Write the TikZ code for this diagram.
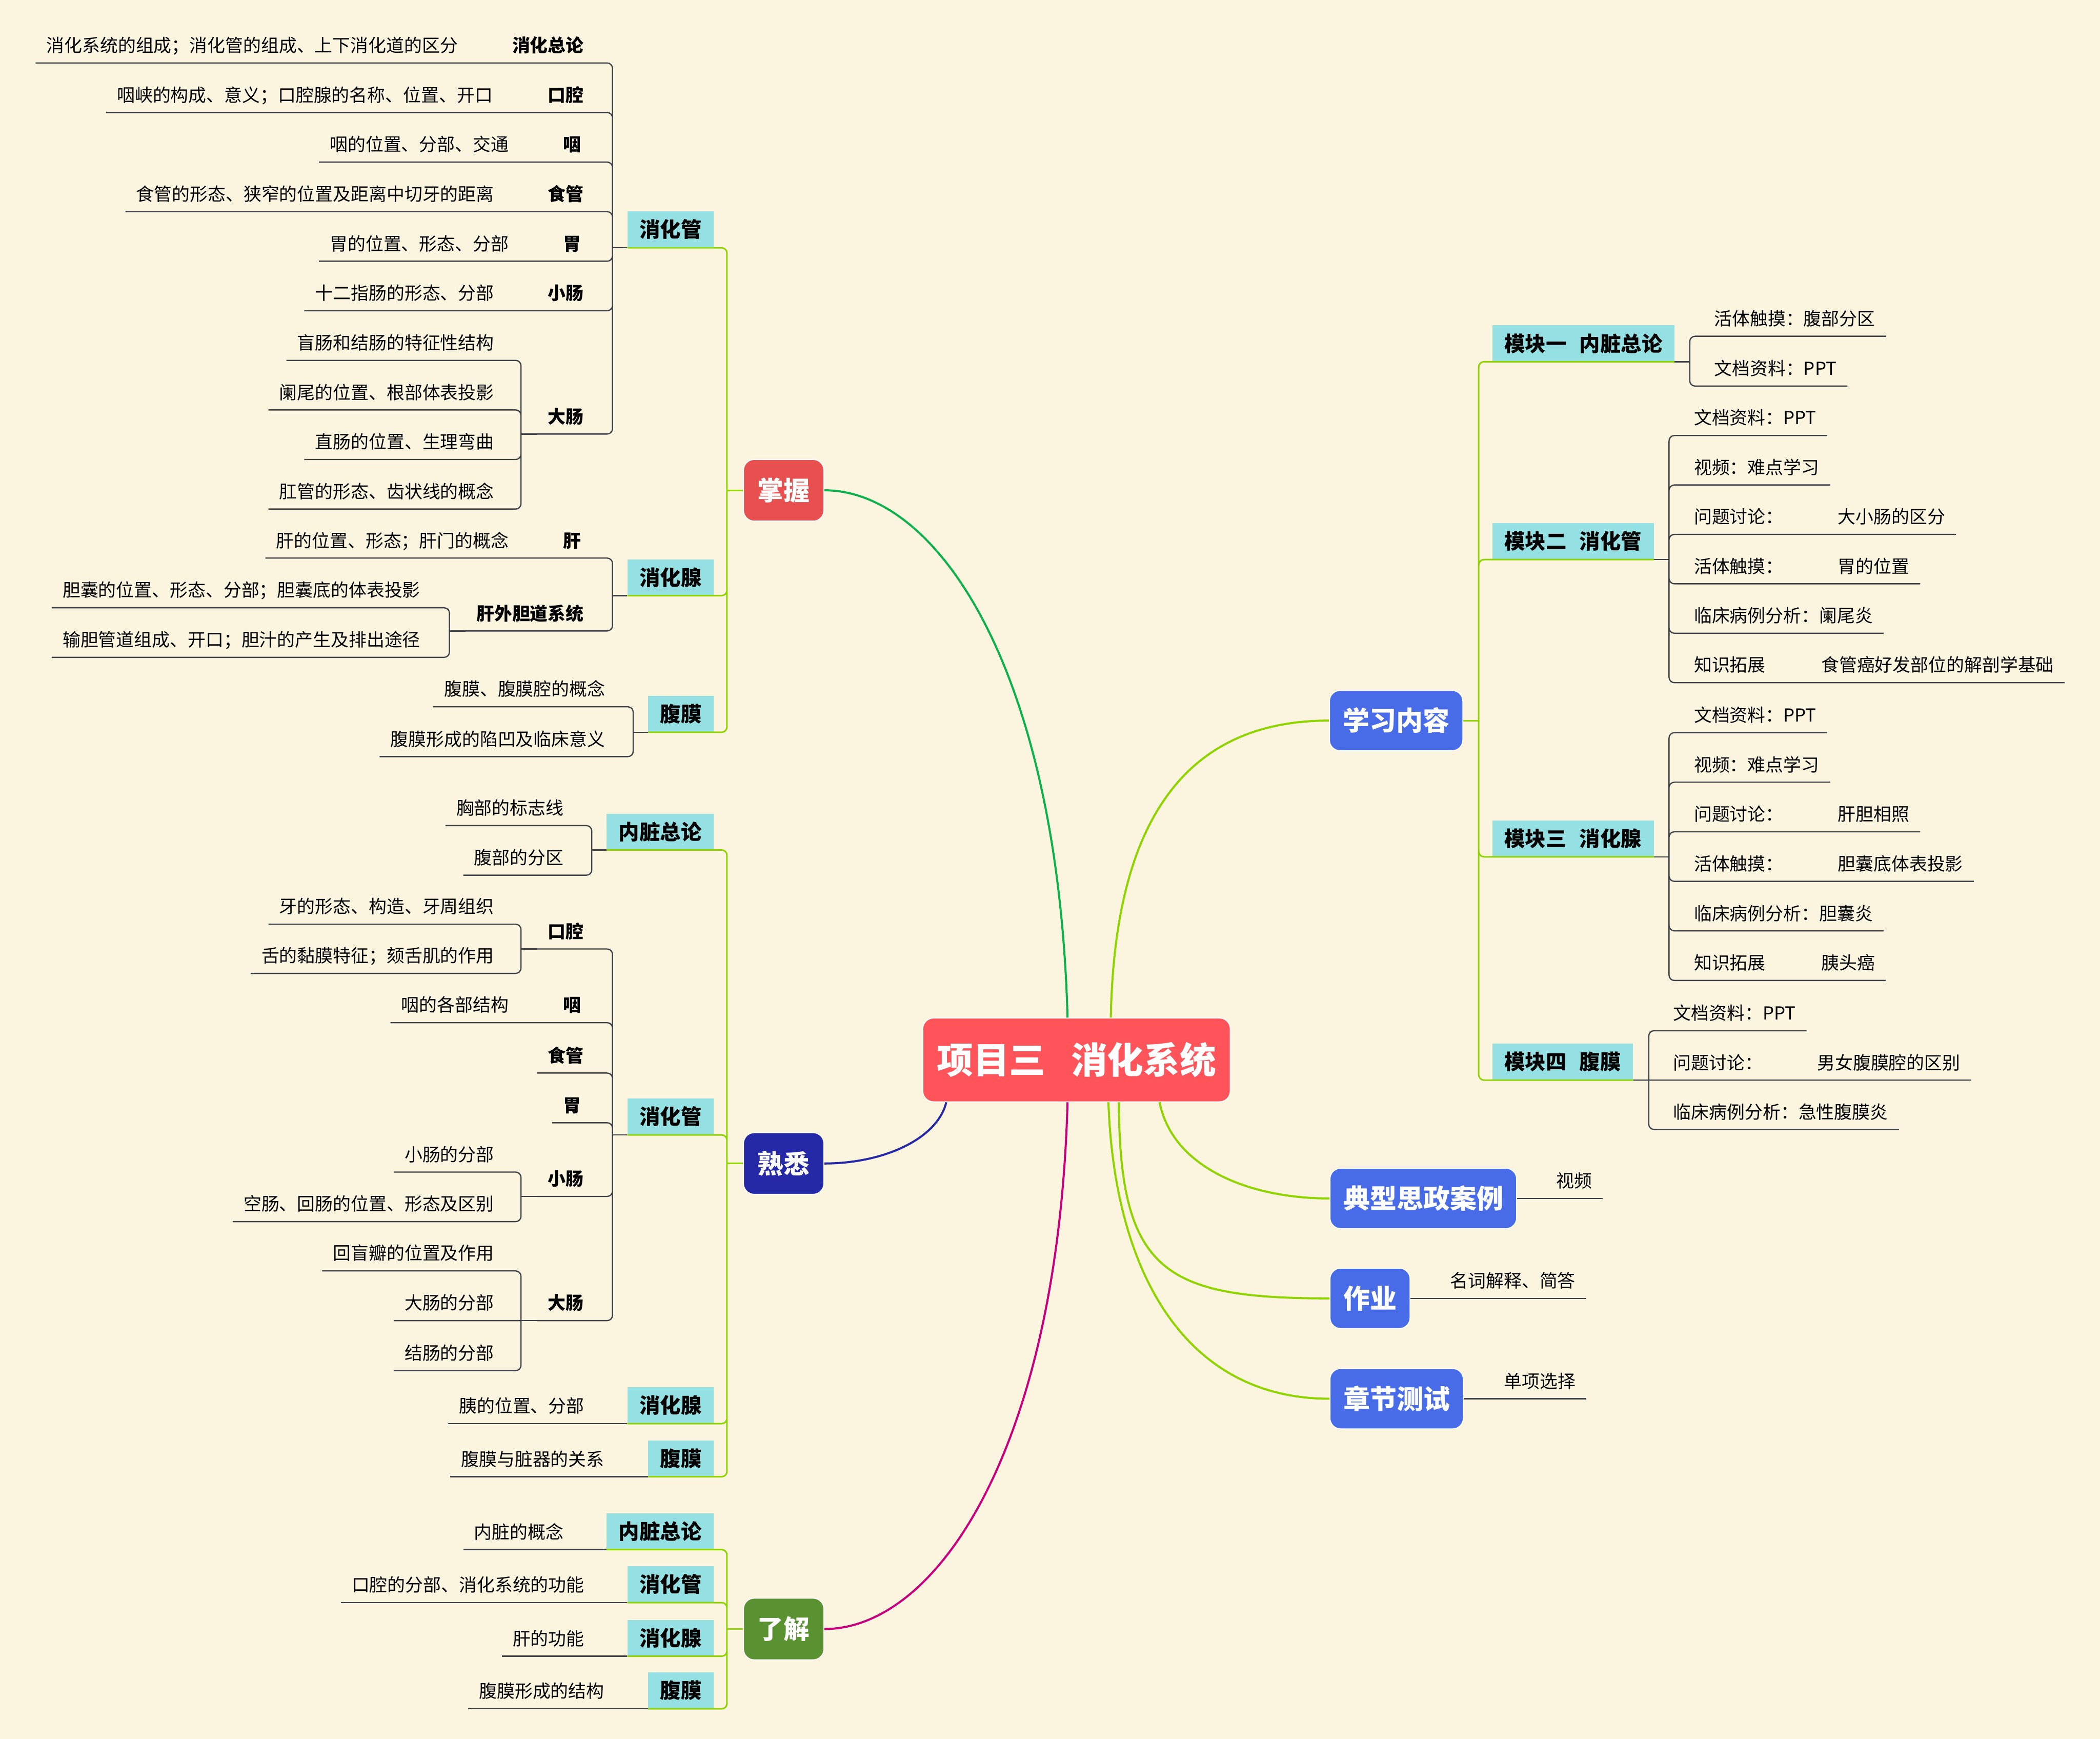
\documentclass[tikz,border=0pt]{standalone}
\usepackage{fontspec}
\setmainfont{Noto Sans CJK SC}
\definecolor{paper}{HTML}{FBF5DF}
\definecolor{rootred}{HTML}{FF5459}
\definecolor{redbox}{HTML}{E85050}
\definecolor{navy}{HTML}{2629A6}
\definecolor{leafgreen}{HTML}{5A9232}
\definecolor{topicblue}{HTML}{486CE8}
\definecolor{catcyan}{HTML}{95E0E3}
\definecolor{lime}{HTML}{8FD400}
\definecolor{deepgreen}{HTML}{0DB14B}
\definecolor{berry}{HTML}{C8007E}
\definecolor{twiggray}{HTML}{3C4248}

\begin{document}
\begin{tikzpicture}[x=0.05cm, y=-0.05cm,
  twig/.style={draw=twiggray, line width=1.3pt, rounded corners=0.2cm},
  limb/.style={draw=lime, line width=1.6pt, rounded corners=0.2cm},
  trunk/.style={line width=2.2pt},
  leaf/.style={font=\fontsize{19pt}{19pt}\selectfont, text=black, inner xsep=0.4cm, inner ysep=0.4cm, text height=15pt, text depth=0pt},
  lbl/.style={leaf, font=\fontsize{19pt}{19pt}\selectfont\bfseries},
  cat/.style={fill=catcyan, font=\fontsize{22pt}{22pt}\selectfont\bfseries, inner xsep=0.45cm, inner ysep=0pt, minimum height=1.35cm, text height=16.7pt, text depth=0pt},
  lvl/.style={draw=white, line width=1pt, rounded corners=0.4cm, text=white, font=\fontsize{27.6pt}{27.6pt}\selectfont\bfseries, minimum width=3cm, minimum height=2.3cm, inner sep=0pt, text height=21pt, text depth=0pt},
  topic/.style={lvl, fill=topicblue, font=\fontsize{28.3pt}{28.3pt}\selectfont\bfseries, minimum width=0pt, minimum height=2.25cm, inner xsep=0.5cm, text height=21.5pt},
]
  \useasboundingbox (0,0) rectangle (1568,1298);
  \fill[paper] (0,0) rectangle (1568,1298);

  \node[lvl, fill=rootred, font=\fontsize{38.5pt}{38.5pt}\selectfont\bfseries, minimum width=11.48cm, minimum height=3.125cm, text height=29.3pt] (root) at (803.8,791.2) {项目三\hspace{0.7em}消化系统};

  % 掌握
  \node[lvl, fill=redbox, anchor=east] (zw) at (615.5,366) {掌握};
  \node[cat, anchor=south east] (zw1) at (533,185) {消化管};
  \node[cat, anchor=south east] (zw2) at (533,444.6) {消化腺};
  \node[cat, anchor=south east] (zw3) at (533,546.6) {腹膜};

  \node[lbl, anchor=south east] (zw1a) at (444,47) {消化总论};
  \node[leaf, anchor=south east] (zw1a1) at (350,47) {消化系统的组成；消化管的组成、上下消化道的区分};
  \node[lbl, anchor=south east] (zw1b) at (444,84) {口腔};
  \node[leaf, anchor=south east] (zw1b1) at (376,84) {咽峡的构成、意义；口腔腺的名称、位置、开口};
  \node[lbl, anchor=south east] (zw1c) at (442,121) {咽};
  \node[leaf, anchor=south east] (zw1c1) at (388,121) {咽的位置、分部、交通};
  \node[lbl, anchor=south east] (zw1d) at (444,158) {食管};
  \node[leaf, anchor=south east] (zw1d1) at (377,158) {食管的形态、狭窄的位置及距离中切牙的距离};
  \node[lbl, anchor=south east] (zw1e) at (442,195) {胃};
  \node[leaf, anchor=south east] (zw1e1) at (388,195) {胃的位置、形态、分部};
  \node[lbl, anchor=south east] (zw1f) at (444,232) {小肠};
  \node[leaf, anchor=south east] (zw1f1) at (377,232) {十二指肠的形态、分部};
  \node[lbl, anchor=south east] (zw1g) at (444,324) {大肠};
  \node[leaf, anchor=south east] (zw1g1) at (377,269) {盲肠和结肠的特征性结构};
  \node[leaf, anchor=south east] (zw1g2) at (377,306) {阑尾的位置、根部体表投影};
  \node[leaf, anchor=south east] (zw1g3) at (377,343) {直肠的位置、生理弯曲};
  \node[leaf, anchor=south east] (zw1g4) at (377,380) {肛管的形态、齿状线的概念};

  \node[lbl, anchor=south east] (zw2a) at (442,416.6) {肝};
  \node[leaf, anchor=south east] (zw2a1) at (388,416.6) {肝的位置、形态；肝门的概念};
  \node[lbl, anchor=south east] (zw2b) at (444,471) {肝外胆道系统};
  \node[leaf, anchor=south east] (zw2b1) at (322,453.7) {胆囊的位置、形态、分部；胆囊底的体表投影};
  \node[leaf, anchor=south east] (zw2b2) at (322,490.7) {输胆管道组成、开口；胆汁的产生及排出途径};

  \node[leaf, anchor=south east] (zw3a) at (460,527.6) {腹膜、腹膜腔的概念};
  \node[leaf, anchor=south east] (zw3b) at (460,564.8) {腹膜形成的陷凹及临床意义};

  \draw[limb] (zw.west) -- ++(-12,0) coordinate (zwS);
  \draw[limb] (zwS) |- (zw1.south west) (zwS) |- (zw2.south west) (zwS) |- (zw3.south west);
  \draw[twig] (zw1.south west) -- ++(-11,0) coordinate (zw1S);
  \draw[twig] (zw1S) |- (zw1a1.south west) (zw1S) |- (zw1b1.south west)
    (zw1S) |- (zw1c1.south west) (zw1S) |- (zw1d1.south west)
    (zw1S) |- (zw1e1.south west) (zw1S) |- (zw1f1.south west)
    (zw1S) |- (zw1g.south west);
  \draw[twig] (zw1g.south west) -- ++(-12,0) coordinate (zw1gS);
  \draw[twig] (zw1gS) |- (zw1g1.south west) (zw1gS) |- (zw1g2.south west)
    (zw1gS) |- (zw1g3.south west) (zw1gS) |- (zw1g4.south west);
  \draw[twig] (zw2.south west) -- ++(-11,0) coordinate (zw2S);
  \draw[twig] (zw2S) |- (zw2a1.south west) (zw2S) |- (zw2b.south west);
  \draw[twig] (zw2b.south west) -- ++(-12,0) coordinate (zw2bS);
  \draw[twig] (zw2bS) |- (zw2b1.south west) (zw2bS) |- (zw2b2.south west);
  \draw[twig] (zw3.south west) -- ++(-11,0) coordinate (zw3S);
  \draw[twig] (zw3S) |- (zw3a.south west) (zw3S) |- (zw3b.south west);

  % 熟悉
  \node[lvl, fill=navy, anchor=east] (sx) at (615.5,868.5) {熟悉};
  \node[cat, anchor=south east] (sx1) at (533,634.5) {内脏总论};
  \node[cat, anchor=south east] (sx2) at (533,847.2) {消化管};
  \node[cat, anchor=south east] (sx3) at (533,1062.7) {消化腺};
  \node[cat, anchor=south east] (sx4) at (533,1102.3) {腹膜};

  \node[leaf, anchor=south east] (sx1a) at (429,616.3) {胸部的标志线};
  \node[leaf, anchor=south east] (sx1b) at (429,653.3) {腹部的分区};
  \node[lbl, anchor=south east] (sx2a) at (444,708.4) {口腔};
  \node[leaf, anchor=south east] (sx2a1) at (377,689.9) {牙的形态、构造、牙周组织};
  \node[leaf, anchor=south east] (sx2a2) at (377,726.6) {舌的黏膜特征；颏舌肌的作用};
  \node[lbl, anchor=south east] (sx2b) at (442,763.4) {咽};
  \node[leaf, anchor=south east] (sx2b1) at (388,763.4) {咽的各部结构};
  \node[lbl, anchor=south east] (sx2c) at (444,801) {食管};
  \node[lbl, anchor=south east] (sx2d) at (442,838.1) {胃};
  \node[lbl, anchor=south east] (sx2e) at (444,893.1) {小肠};
  \node[leaf, anchor=south east] (sx2e1) at (377,874.9) {小肠的分部};
  \node[leaf, anchor=south east] (sx2e2) at (377,911.9) {空肠、回肠的位置、形态及区别};
  \node[lbl, anchor=south east] (sx2f) at (444,985.8) {大肠};
  \node[leaf, anchor=south east] (sx2f1) at (377,948.7) {回盲瓣的位置及作用};
  \node[leaf, anchor=south east] (sx2f2) at (377,985.8) {大肠的分部};
  \node[leaf, anchor=south east] (sx2f3) at (377,1023.1) {结肠的分部};
  \node[leaf, anchor=south east] (sx3a) at (444.4,1062.7) {胰的位置、分部};
  \node[leaf, anchor=south east] (sx4a) at (459.3,1102.3) {腹膜与脏器的关系};

  \draw[limb] (sx.west) -- ++(-12,0) coordinate (sxS);
  \draw[limb] (sxS) |- (sx1.south west) (sxS) |- (sx2.south west)
    (sxS) |- (sx3.south west) (sxS) |- (sx4.south west);
  \draw[twig] (sx1.south west) -- ++(-11,0) coordinate (sx1S);
  \draw[twig] (sx1S) |- (sx1a.south west) (sx1S) |- (sx1b.south west);
  \draw[twig] (sx2.south west) -- ++(-11,0) coordinate (sx2S);
  \draw[twig] (sx2S) |- (sx2a.south west) (sx2S) |- (sx2b1.south west)
    (sx2S) |- (sx2c.south west) (sx2S) |- (sx2d.south west)
    (sx2S) |- (sx2e.south west) (sx2S) |- (sx2f.south west);
  \draw[twig] (sx2a.south west) -- ++(-12,0) coordinate (sx2aS);
  \draw[twig] (sx2aS) |- (sx2a1.south west) (sx2aS) |- (sx2a2.south west);
  \draw[twig] (sx2e.south west) -- ++(-12,0) coordinate (sx2eS);
  \draw[twig] (sx2eS) |- (sx2e1.south west) (sx2eS) |- (sx2e2.south west);
  \draw[twig] (sx2f.south west) -- ++(-12,0) coordinate (sx2fS);
  \draw[twig] (sx2fS) |- (sx2f1.south west) (sx2fS) -- (sx2f2.south west) (sx2fS) |- (sx2f3.south west);
  \draw[twig] (sx3.south west) -- (sx3a.south west);
  \draw[twig] (sx4.south west) -- (sx4a.south west);

  % 了解
  \node[lvl, fill=leafgreen, anchor=east] (lj) at (615.5,1216) {了解};
  \node[cat, anchor=south east] (lj1) at (533,1156.7) {内脏总论};
  \node[cat, anchor=south east] (lj2) at (533,1196.3) {消化管};
  \node[cat, anchor=south east] (lj3) at (533,1236.3) {消化腺};
  \node[cat, anchor=south east] (lj4) at (533,1275.6) {腹膜};
  \node[leaf, anchor=south east] (lj1a) at (429,1156.7) {内脏的概念};
  \node[leaf, anchor=south east] (lj2a) at (444.4,1196.3) {口腔的分部、消化系统的功能};
  \node[leaf, anchor=south east] (lj3a) at (444.4,1236.3) {肝的功能};
  \node[leaf, anchor=south east] (lj4a) at (459.3,1275.6) {腹膜形成的结构};

  \draw[limb] (lj.west) -- ++(-12,0) coordinate (ljS);
  \draw[limb] (ljS) |- (lj1.south west) (ljS) |- (lj2.south west)
    (ljS) |- (lj3.south west) (ljS) |- (lj4.south west);
  \draw[twig] (lj1.south west) -- (lj1a.south west);
  \draw[twig] (lj2.south west) -- (lj2a.south west);
  \draw[twig] (lj3.south west) -- (lj3a.south west);
  \draw[twig] (lj4.south west) -- (lj4a.south west);

  % 学习内容
  \node[topic, anchor=west] (xx) at (992.3,537.9) {学习内容};
  \node[cat, anchor=south west] (xx1) at (1114.1,270) {模块一\hspace{0.63em}内脏总论};
  \node[cat, anchor=south west] (xx2) at (1114.1,417.7) {模块二\hspace{0.63em}消化管};
  \node[cat, anchor=south west] (xx3) at (1114.1,639.6) {模块三\hspace{0.63em}消化腺};
  \node[cat, anchor=south west] (xx4) at (1114.1,806.3) {模块四\hspace{0.63em}腹膜};

  \node[leaf, anchor=south west] (xx1a) at (1271.8,251) {活体触摸：腹部分区};
  \node[leaf, anchor=south west] (xx1b) at (1271.8,288.2) {文档资料：PPT};
  \node[leaf, anchor=south west] (xx2a) at (1256.7,325.1) {文档资料：PPT};
  \node[leaf, anchor=south west] (xx2b) at (1256.7,362) {视频：难点学习};
  \node[leaf, anchor=south west] (xx2c) at (1256.7,398.9) {\makebox[5.37cm][l]{问题讨论：}大小肠的区分};
  \node[leaf, anchor=south west] (xx2d) at (1256.7,435.8) {\makebox[5.37cm][l]{活体触摸：}胃的位置};
  \node[leaf, anchor=south west] (xx2e) at (1256.7,472.7) {临床病例分析：阑尾炎};
  \node[leaf, anchor=south west] (xx2f) at (1256.7,509.6) {\makebox[4.75cm][l]{知识拓展}食管癌好发部位的解剖学基础};
  \node[leaf, anchor=south west] (xx3a) at (1256.7,546.9) {文档资料：PPT};
  \node[leaf, anchor=south west] (xx3b) at (1256.7,583.9) {视频：难点学习};
  \node[leaf, anchor=south west] (xx3c) at (1256.7,620.9) {\makebox[5.37cm][l]{问题讨论：}肝胆相照};
  \node[leaf, anchor=south west] (xx3d) at (1256.7,657.9) {\makebox[5.37cm][l]{活体触摸：}胆囊底体表投影};
  \node[leaf, anchor=south west] (xx3e) at (1256.7,694.9) {临床病例分析：胆囊炎};
  \node[leaf, anchor=south west] (xx3f) at (1256.7,731.9) {\makebox[4.75cm][l]{知识拓展}胰头癌};
  \node[leaf, anchor=south west] (xx4a) at (1241.3,769.4) {文档资料：PPT};
  \node[leaf, anchor=south west] (xx4b) at (1241.3,806.3) {\makebox[5.37cm][l]{问题讨论：}男女腹膜腔的区别};
  \node[leaf, anchor=south west] (xx4c) at (1241.3,843.1) {临床病例分析：急性腹膜炎};

  \draw[limb] (xx.east) -- ++(11.5,0) coordinate (xxS);
  \draw[limb] (xxS) |- (xx1.south east) (xxS) |- (xx2.south east)
    (xxS) |- (xx3.south east) (xxS) |- (xx4.south east);
  \draw[twig] (xx1.south east) -- ++(11.3,0) coordinate (xx1S);
  \draw[twig] (xx1S) |- (xx1a.south east) (xx1S) |- (xx1b.south east);
  \draw[twig] (xx2.south east) -- ++(11.3,0) coordinate (xx2S);
  \draw[twig] (xx2S) |- (xx2a.south east) (xx2S) |- (xx2b.south east)
    (xx2S) |- (xx2c.south east) (xx2S) |- (xx2d.south east)
    (xx2S) |- (xx2e.south east) (xx2S) |- (xx2f.south east);
  \draw[twig] (xx3.south east) -- ++(11.3,0) coordinate (xx3S);
  \draw[twig] (xx3S) |- (xx3a.south east) (xx3S) |- (xx3b.south east)
    (xx3S) |- (xx3c.south east) (xx3S) |- (xx3d.south east)
    (xx3S) |- (xx3e.south east) (xx3S) |- (xx3f.south east);
  \draw[twig] (xx4.south east) -- ++(11.6,0) coordinate (xx4S);
  \draw[twig] (xx4S) |- (xx4a.south east) (xx4.south east) -- (xx4b.south east)
    (xx4S) |- (xx4c.south east);

  % 其它
  \node[topic, anchor=west] (dx) at (992.7,894.6) {典型思政案例};
  \node[leaf, anchor=south west] (dx1) at (1153.8,894.6) {视频};
  \node[topic, anchor=west] (zy) at (992.7,969.2) {作业};
  \node[leaf, anchor=south west] (zy1) at (1074.7,969.2) {名词解释、简答};
  \node[topic, anchor=west] (zj) at (992.7,1044.1) {章节测试};
  \node[leaf, anchor=south west] (zj1) at (1114.8,1044.1) {单项选择};
  \draw[twig] (dx.east) -- (dx1.south east);
  \draw[twig] (zy.east) -- (zy1.south east);
  \draw[twig] (zj.east) -- (zj1.south east);

  \draw[trunk, deepgreen] (root.102) .. controls (790,500) and (700,366) .. (zw.east);
  \draw[trunk, navy] (root.198) .. controls (700,850) and (660,868.5) .. (sx.east);
  \draw[trunk, berry] (root.258) .. controls (790,1080) and (700,1216) .. (lj.east);
  \draw[trunk, lime] (root.51) .. controls (832,620) and (880,537.9) .. (xx.west);
  \draw[trunk, lime] (root.333) .. controls (875,870) and (930,894.6) .. (dx.west);
  \draw[trunk, lime] (root.315) .. controls (836,950) and (870,969.2) .. (zy.west);
  \draw[trunk, lime] (root.307) .. controls (832,950) and (885,1044.1) .. (zj.west);
\end{tikzpicture}
\end{document}
